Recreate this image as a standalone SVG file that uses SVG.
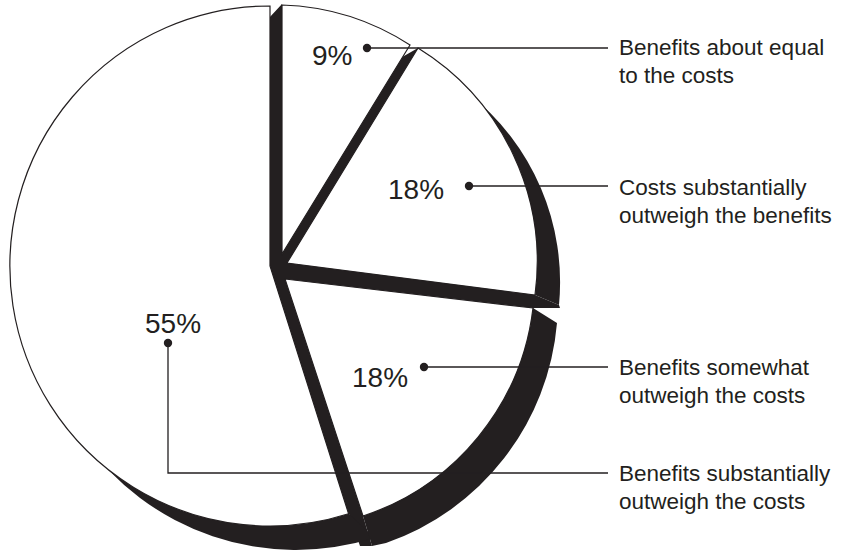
<svg xmlns="http://www.w3.org/2000/svg" width="850" height="550" viewBox="0 0 850 550">
  <style>
    .depth { fill: #231f20; stroke: none; }
    .top { fill: #ffffff; stroke: #231f20; stroke-width: 1.2; stroke-linejoin: miter; }
    .pct { font-family: "Liberation Sans", Arial, sans-serif; font-size: 28px; fill: #231f20; }
    .lbl { font-family: "Liberation Sans", Arial, sans-serif; font-size: 22.5px; fill: #231f20; }
    .lead { fill: none; stroke: #231f20; stroke-width: 1.3; }
    .dot { fill: #231f20; }
  </style>
  <rect width="850" height="550" fill="#ffffff"/>

  <g id="gaps">
    <path class="depth" d="M269,18 L282,4 L300,100 L404,56 L418,48 L480,200 L535,295 L559,305 L560,308 L533,308 L450,400 L363,516 L372,546 L360,546 L349,514 L150,300 Z"/>
  </g>

  <g id="slice-55">
    <path class="depth" d="M348.6,513.8 A260,260 0 0 1 57,415 L83,439 A260,260 0 0 0 374.6,537.8 Z"/>
    <path class="top" d="M270,266 L270,6 A260,260 0 1 0 348.6,513.8 Z"/>
    <text class="pct" x="145" y="333">55%</text>
  </g>

  <g id="slice-9">
    <path class="top" d="M282,254 L282,5 A250,250 0 0 1 410,45 Z"/>
    <text class="pct" x="312" y="65">9%</text>
  </g>

  <g id="slice-18-costs">
    <path class="depth" d="M418,48 A251,251 0 0 1 535,295 L559,305 A240,240 0 0 0 469,94 Z"/>
    <path class="top" d="M287,263 L418,48 A251,251 0 0 1 535,295 Z"/>
    <text class="pct" x="388" y="199">18%</text>
  </g>

  <g id="slice-18-benefits">
    <path class="depth" d="M533,308 A250,250 0 0 1 363,516 L372,546 L386,543 A256,256 0 0 0 557,323 Z"/>
    <path class="top" d="M285,279 L533,308 A250,250 0 0 1 363,516 Z"/>
    <text class="pct" x="352" y="387">18%</text>
  </g>

  <g id="connectors">
    <polyline class="lead" points="367,48 608,48"/>
    <circle class="dot" cx="367" cy="48" r="4.2"/>
    <polyline class="lead" points="469,186 608,186"/>
    <circle class="dot" cx="469" cy="186" r="4.2"/>
    <polyline class="lead" points="424,367 608,367"/>
    <circle class="dot" cx="424" cy="367" r="4.2"/>
    <polyline class="lead" points="168,343 168,473 608,473"/>
    <circle class="dot" cx="168" cy="343" r="4.2"/>
  </g>

  <g id="label-equal">
    <text class="lbl" x="619" y="55">Benefits about equal</text>
    <text class="lbl" x="619" y="83">to the costs</text>
  </g>
  <g id="label-costs-outweigh">
    <text class="lbl" x="619" y="195">Costs substantially</text>
    <text class="lbl" x="619" y="223">outweigh the benefits</text>
  </g>
  <g id="label-somewhat">
    <text class="lbl" x="619" y="375">Benefits somewhat</text>
    <text class="lbl" x="619" y="403">outweigh the costs</text>
  </g>
  <g id="label-substantially">
    <text class="lbl" x="619" y="481">Benefits substantially</text>
    <text class="lbl" x="619" y="509">outweigh the costs</text>
  </g>
</svg>
